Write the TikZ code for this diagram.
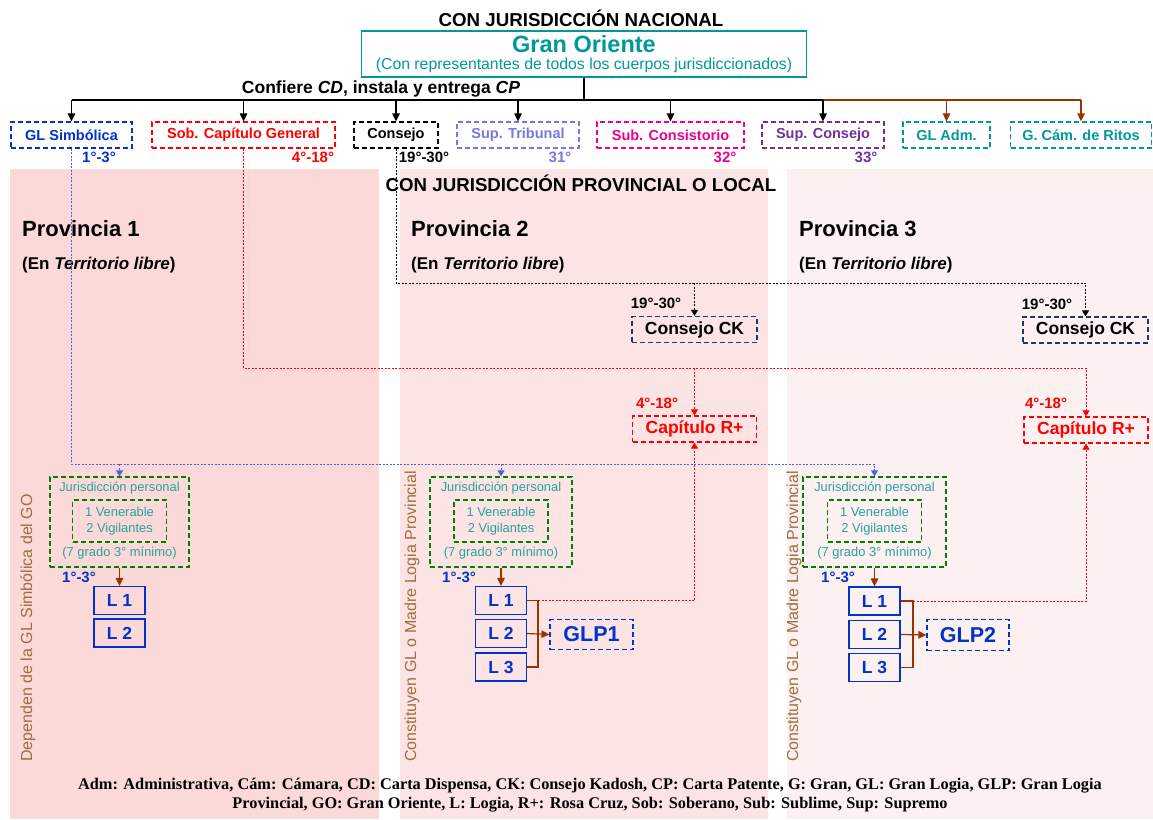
\documentclass[tikz,border=0pt]{standalone}
\usepackage{fontspec}
\setmainfont{Liberation Sans}
\newfontfamily\leyendafont{Liberation Serif}
\usetikzlibrary{arrows.meta}

\definecolor{goteal}{RGB}{0,153,153}
\definecolor{glblue}{RGB}{0,51,204}
\definecolor{tribunal}{RGB}{120,120,225}
\definecolor{supremo}{RGB}{112,48,160}
\definecolor{cafe}{RGB}{153,51,0}
\definecolor{jurverde}{RGB}{0,128,0}
\definecolor{jurtexto}{RGB}{40,160,160}
\definecolor{vtexto}{RGB}{160,110,60}
\definecolor{ckborde}{RGB}{31,56,100}
\definecolor{azulpunto}{RGB}{70,100,225}
\definecolor{prov1}{RGB}{251,217,217}
\definecolor{prov2}{RGB}{252,228,228}
\definecolor{prov3}{RGB}{252,240,240}

\newcommand{\fsz}[1]{\fontsize{#1}{#1}\selectfont}

\tikzset{
    cuerpo/.style={draw, line width=1.2pt, dash pattern=on 5pt off 3pt, inner sep=0pt, minimum height=26, font=\bfseries\fsz{14.5}},
    grado/.style={inner sep=0pt, font=\bfseries\fsz{15}},
    logia/.style={draw=glblue, line width=1.2pt, text=glblue, inner sep=0pt, minimum width=51, minimum height=28, font=\bfseries\fsz{17.5}},
    jur/.style={draw=jurverde, line width=1.2pt, dash pattern=on 5pt off 3pt, inner sep=0pt},
    jurtxt/.style={text=jurtexto, inner sep=0pt, font=\fsz{12.9}},
    vlabel/.style={rotate=90, anchor=west, text=vtexto, inner sep=0pt, font=\fsz{16}},
    provtit/.style={anchor=west, inner sep=0pt, font=\bfseries\fsz{22}},
    provsub/.style={anchor=west, inner sep=0pt, font=\bfseries\fsz{17}},
    enlace/.style={line width=0.9pt, dash pattern=on 2pt off 1.5pt, -{Triangle[width=7pt,length=6pt]}},
    flecha/.style={line width=1.2pt, -{Triangle[width=7.5pt,length=8pt]}},
}

\begin{document}
\begin{tikzpicture}[x=1pt,y=-1pt]
    \useasboundingbox (0,0) rectangle (1153,819);

    % provincias
    \fill[prov1] (10,169) rectangle (379,819);
    \fill[prov2] (400,169) rectangle (768,819);
    \fill[prov3] (787,169) rectangle (1153,819);

    % nivel nacional
    \node[font=\bfseries\fsz{18.7}] (tnac) at (581,18) {CON JURISDICCIÓN NACIONAL};
    \node[draw=goteal, line width=1.2pt, minimum width=445, minimum height=46, inner sep=0pt] (go) at (584,54) {};
    \node[text=goteal, inner sep=0pt, font=\bfseries\fsz{23.5}] (gotit) at (584,44) {Gran Oriente};
    \node[text=goteal, inner sep=0pt, font=\fsz{15.8}] (gosub) at (584,65) {(Con representantes de todos los cuerpos jurisdiccionados)};
    \node[font=\bfseries\fsz{17.5}] (confiere) at (381,89) {Confiere \textit{CD}, instala y entrega \textit{CP}};
    \coordinate (bus) at (584,100);

    \node[cuerpo, draw=glblue, text=glblue, minimum width=121] (glsim) at (71.5,135) {GL Simbólica};
    \node[cuerpo, draw=red, text=red, minimum width=183] (sobcap) at (243.5,135) {Sob. Capítulo General};
    \node[cuerpo, draw=black, minimum width=84] (consejo) at (396,135) {Consejo};
    \node[cuerpo, draw=tribunal, text=tribunal, minimum width=122] (suptrib) at (518,135) {Sup. Tribunal};
    \node[cuerpo, draw=magenta, text=magenta, minimum width=147] (subcons) at (670.5,135) {Sub. Consistorio};
    \node[cuerpo, draw=supremo, text=supremo, minimum width=122] (supcons) at (823,135) {Sup. Consejo};
    \node[cuerpo, draw=goteal, text=goteal, minimum width=87] (gladm) at (946.5,135) {GL Adm.};
    \node[cuerpo, draw=goteal, text=goteal, minimum width=141] (gcam) at (1081,135) {G. Cám. de Ritos};

    \node[grado, text=glblue] (g13) at (99,157) {1°-3°};
    \node[grado, text=red] (g418) at (313,157) {4°-18°};
    \node[grado] (g1930) at (424,157) {19°-30°};
    \node[grado, text=tribunal] (g31) at (560,157) {31°};
    \node[grado, text=magenta] (g32) at (725,157) {32°};
    \node[grado, text=supremo] (g33) at (866,157) {33°};

    \draw[line width=1.5pt] (go.south) -- (bus);
    \draw[line width=1.2pt] (glsim.north |- bus) -- (supcons.north |- bus);
    \draw[cafe, line width=1.2pt] (supcons.north |- bus) -- (gcam.north |- bus);
    \draw[flecha] (glsim.north |- bus) -- (glsim.north);
    \draw[flecha] (sobcap.north |- bus) -- (sobcap.north);
    \draw[flecha] (consejo.north |- bus) -- (consejo.north);
    \draw[flecha] (suptrib.north |- bus) -- (suptrib.north);
    \draw[flecha] (subcons.north |- bus) -- (subcons.north);
    \draw[flecha] (supcons.north |- bus) -- (supcons.north);
    \draw[flecha, cafe] (gladm.north |- bus) -- (gladm.north);
    \draw[flecha, cafe] (gcam.north |- bus) -- (gcam.north);

    % nivel provincial
    \node[font=\bfseries\fsz{18.7}] (tprov) at (581,183) {CON JURISDICCIÓN PROVINCIAL O LOCAL};
    \node[provtit] (p1) at (22,229) {Provincia 1};
    \node[provsub] (p1b) at (22,265) {(En \textit{Territorio libre})};
    \node[provtit] (p2) at (411,229) {Provincia 2};
    \node[provsub] (p2b) at (411,265) {(En \textit{Territorio libre})};
    \node[provtit] (p3) at (799,229) {Provincia 3};
    \node[provsub] (p3b) at (799,265) {(En \textit{Territorio libre})};

    \node[cuerpo, draw=ckborde, minimum width=125, font=\bfseries\fsz{17.5}] (ck2) at (694.5,329.5) {Consejo CK};
    \node[cuerpo, draw=red, text=red, minimum width=124, font=\bfseries\fsz{17.5}] (cap2) at (694.5,429) {Capítulo R+};
    \node[grado] (gck2) at (656,303) {19°-30°};
    \node[grado, text=red] (gcap2) at (657,403) {4°-18°};
    \node[cuerpo, draw=ckborde, minimum width=125, font=\bfseries\fsz{17.5}] (ck3) at (1085.5,330) {Consejo CK};
    \node[cuerpo, draw=red, text=red, minimum width=124, font=\bfseries\fsz{17.5}] (cap3) at (1086,430) {Capítulo R+};
    \node[grado] (gck3) at (1047,304) {19°-30°};
    \node[grado, text=red] (gcap3) at (1046,403) {4°-18°};

    % provincia 1
    \node[jur, minimum width=139, minimum height=90] (jur1) at (119.5,522) {};
    \node[jur, minimum width=94, minimum height=42, text=jurtexto, align=center, font=\fontsize{12.9}{16}\selectfont] (ofi1) at (119.5,521) {1 Venerable\\2 Vigilantes};
    \node[jurtxt] (jt1) at (119.5,488) {Jurisdicción personal};
    \node[jurtxt] (min1) at (119.5,553) {(7 grado 3° mínimo)};
    \node[grado, text=glblue] (gl1) at (79,577) {1°-3°};
    \node[logia] (l11) at (119.5,600.5) {L 1};
    \node[logia] (l12) at (119.5,633) {L 2};
    \node[vlabel] (dep1) at (28,762) {Dependen de la GL Simbólica del GO};

    % provincia 2
    \node[jur, minimum width=142, minimum height=90] (jur2) at (501,522) {};
    \node[jur, minimum width=94, minimum height=42, text=jurtexto, align=center, font=\fontsize{12.9}{16}\selectfont] (ofi2) at (501,521) {1 Venerable\\2 Vigilantes};
    \node[jurtxt] (jt2) at (501,488) {Jurisdicción personal};
    \node[jurtxt] (min2) at (501,553) {(7 grado 3° mínimo)};
    \node[grado, text=glblue] (gl2) at (459,577) {1°-3°};
    \node[logia] (l21) at (501,600.5) {L 1};
    \node[logia] (l22) at (501,633.5) {L 2};
    \node[logia] (l23) at (501,667) {L 3};
    \node[cuerpo, draw=glblue, text=glblue, minimum width=83, minimum height=30, font=\bfseries\fsz{21.5}] (glp1) at (591.5,634.5) {GLP1};
    \node[vlabel] (con2) at (412,762) {Constituyen GL o Madre Logia Provincial};

    % provincia 3
    \node[jur, minimum width=143, minimum height=90] (jur3) at (874.5,522) {};
    \node[jur, minimum width=94, minimum height=42, text=jurtexto, align=center, font=\fontsize{12.9}{16}\selectfont] (ofi3) at (874.5,521) {1 Venerable\\2 Vigilantes};
    \node[jurtxt] (jt3) at (874.5,488) {Jurisdicción personal};
    \node[jurtxt] (min3) at (874.5,553) {(7 grado 3° mínimo)};
    \node[grado, text=glblue] (gl3) at (838,577) {1°-3°};
    \node[logia] (l31) at (874.5,601) {L 1};
    \node[logia] (l32) at (874.5,634.5) {L 2};
    \node[logia] (l33) at (874.5,667.5) {L 3};
    \node[cuerpo, draw=glblue, text=glblue, minimum width=82, minimum height=31, font=\bfseries\fsz{21.5}] (glp2) at (968,635) {GLP2};
    \node[vlabel] (con3) at (794,762) {Constituyen GL o Madre Logia Provincial};

    % enlaces punteados
    \coordinate (cky) at (0,283);
    \coordinate (capy) at (0,368);
    \coordinate (jury) at (0,464);
    \draw[enlace] (consejo.south) |- (ck3.north |- cky) -- (ck3.north);
    \draw[enlace] (ck2.north |- cky) -- (ck2.north);
    \draw[enlace, red] (sobcap.south) |- (cap3.north |- capy) -- (cap3.north);
    \draw[enlace, red] (cap2.north |- capy) -- (cap2.north);
    \draw[enlace, azulpunto] (glsim.south) |- (jur3.north |- jury) -- (jur3.north);
    \draw[enlace, azulpunto] (jur1.north |- jury) -- (jur1.north);
    \draw[enlace, azulpunto] (jur2.north |- jury) -- (jur2.north);

    % logias
    \coordinate (b2) at (538,0);
    \coordinate (b3) at (913,0);
    \draw[flecha, cafe] (jur1.south) -- (l11.north);
    \draw[flecha, cafe] (jur2.south) -- (l21.north);
    \draw[flecha, cafe] (jur3.south) -- (l31.north);
    \draw[cafe, line width=1.2pt] (l21.east) -| (l23.east -| b2) -- (l23.east);
    \draw[flecha, cafe] (l22.east) -- (glp1.west);
    \draw[enlace, red] (l21.east -| b2) -| (cap2.south);
    \draw[cafe, line width=1.2pt] (l31.east) -| (l33.east -| b3) -- (l33.east);
    \draw[flecha, cafe] (l32.east) -- (glp2.west);
    \draw[enlace, red] (l31.east -| b3) -| (cap3.south);

    % leyenda
    \node[align=center, font=\leyendafont\bfseries\fontsize{16.3}{19}\selectfont] (leyenda) at (590,795) {Adm: Administrativa, Cám: Cámara, CD: Carta Dispensa, CK: Consejo Kadosh, CP: Carta Patente, G: Gran, GL: Gran Logia, GLP: Gran Logia\\Provincial, GO: Gran Oriente, L: Logia, R+: Rosa Cruz, Sob: Soberano, Sub: Sublime, Sup: Supremo};
\end{tikzpicture}
\end{document}
